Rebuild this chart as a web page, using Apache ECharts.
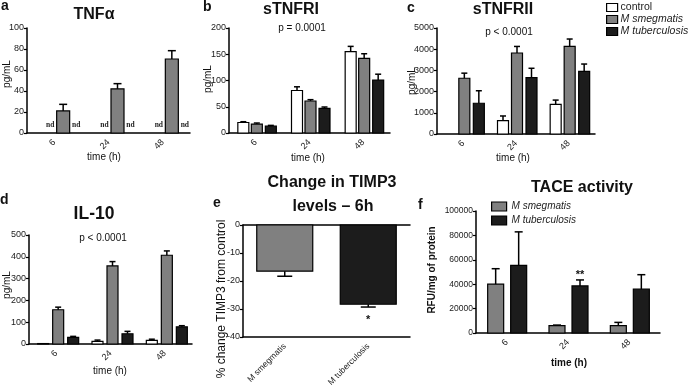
<!DOCTYPE html>
<html><head><meta charset="utf-8">
<script src="https://cdn.jsdelivr.net/npm/echarts@6/dist/echarts.min.js"></script>
<style>html,body{margin:0;padding:0;background:#fff}#c{width:691px;height:391px}</style>
</head><body><div id="c"></div>
<script>
// ---- data ----
const timeCats = ['6', '24', '48'];
const aSmeg = [21, 42, 70.5], aSmegErr = [6.3, 5, 7.9];
const aNd = ['nd', 'nd', 'nd'];
const bControl = [20, 81, 155], bControlErr = [1.5, 7, 10];
const bSmeg = [17, 61, 142], bSmegErr = [2, 2.5, 9];
const bTb = [13, 47, 101], bTbErr = [1.5, 2.5, 11];
const cControl = [0, 630, 1400], cControlErr = [0, 220, 200];
const cSmeg = [2630, 3820, 4130], cSmegErr = [240, 310, 350];
const cTb = [1450, 2660, 2950], cTbErr = [590, 440, 350];
const dControl = [2, 12, 17], dControlErr = [0, 6, 5];
const dSmeg = [157, 358, 407], dSmegErr = [12, 20, 20];
const dTb = [30, 47, 79], dTbErr = [5, 11, 5];
const eCats = ['M smegmatis', 'M tuberculosis'];
const eValues = [-16.5, -28.3], eErr = [1.8, 1.0], eSig = ['', '*'];
const fSmeg = [40000, 6000, 6000], fSmegErr = [12700, 500, 2700];
const fTb = [55400, 38600, 35900], fTbErr = [27500, 4900, 11900], fSig = ['', '**', ''];
const seriesNames = ['control', 'M smegmatis', 'M tuberculosis'];

const FONT = '"Liberation Sans", Arial, sans-serif';
const WHITE = '#ffffff', GRAY = '#808080', BLACK = '#1c1c1c';

function mkSeries(name, xi, yi, values, errs, fill, off, w, cap, extra) {
  extra = extra || {};
  return {
    type: 'custom', name: name, xAxisIndex: xi, yAxisIndex: yi, z: 3,
    itemStyle: { color: fill, borderColor: '#000', borderWidth: 1.2 },
    encode: { x: 0, y: 1 },
    data: values.map((v, i) => [i, v, errs ? errs[i] : 0]),
    renderItem: function (params, api) {
      const i = params.dataIndex;
      const ci = api.value(0), v = api.value(1), e = api.value(2);
      const base = api.coord([ci, 0]);
      const cx = base[0] + off;
      const ch = [];
      if (extra.labels) {
        ch.push({ type: 'text', x: cx, y: base[1] - 8,
          style: { text: extra.labels[i], font: 'bold 7.5px "Liberation Serif", serif', fill: '#222', textAlign: 'center', textVerticalAlign: 'middle' } });
        return { type: 'group', children: ch };
      }
      const top = api.coord([ci, v]);
      const f = extra.fills ? extra.fills[i] : fill;
      if (v !== 0) {
        ch.push({ type: 'rect', shape: { x: cx - w / 2, y: Math.min(top[1], base[1]), width: w, height: Math.abs(top[1] - base[1]) },
          style: { fill: f, stroke: '#000', lineWidth: 1.2 } });
      }
      const s = v < 0 ? -1 : 1;
      let ey = top[1];
      if (e > 0) {
        ey = api.coord([ci, v + s * e])[1];
        ch.push({ type: 'line', shape: { x1: cx, y1: top[1], x2: cx, y2: ey }, style: { stroke: '#000', lineWidth: 1.5 } });
        ch.push({ type: 'line', shape: { x1: cx - cap / 2, y1: ey, x2: cx + cap / 2, y2: ey }, style: { stroke: '#000', lineWidth: 1.5 } });
      }
      if (extra.sig && extra.sig[i]) {
        ch.push({ type: 'text', x: cx, y: s > 0 ? ey - 5 : ey + 13,
          style: { text: extra.sig[i], font: 'bold 11px ' + FONT, fill: '#111', textAlign: 'center', textVerticalAlign: 'middle' } });
      }
      return { type: 'group', children: ch };
    }
  };
}

function xAx(grid, cats, extra) {
  return Object.assign({
    gridIndex: grid, type: 'category', data: cats,
    axisLine: { onZero: false, lineStyle: { color: '#000', width: 1.5 } },
    axisTick: { alignWithLabel: true, length: 3, lineStyle: { color: '#000', width: 1.2 } },
    axisLabel: { rotate: 45, interval: 0, fontSize: 9, color: '#222', fontFamily: FONT, margin: 8 },
    splitLine: { show: false }
  }, extra || {});
}
function yAx(grid, min, max, interval, fs) {
  return {
    gridIndex: grid, type: 'value', min: min, max: max, interval: interval,
    axisLine: { show: true, lineStyle: { color: '#000', width: 1.5 } },
    axisTick: { show: true, length: 3, lineStyle: { color: '#000', width: 1.2 } },
    axisLabel: { fontSize: fs || 9, color: '#1a1a1a', fontFamily: FONT, margin: 3, formatter: v => String(v) },
    splitLine: { show: false }
  };
}
function T(text, x, y, font, rot, align) {
  return { type: 'text', x: x, y: y, rotation: rot || 0, silent: true,
    style: { text: text, font: font, fill: '#111', textAlign: align || 'center', textVerticalAlign: 'middle' } };
}
const legendFmt = n => n === 'control' ? n : '{i|' + n + '}';
const legItem = (n, c) => ({ name: n, itemStyle: { color: c, borderColor: '#000', borderWidth: 1.2 } });

const option = {
  animation: false,
  backgroundColor: '#fff',
  grid: [
    { left: 27, top: 28, width: 163, height: 105 },
    { left: 229, top: 28, width: 161, height: 105 },
    { left: 437, top: 28, width: 158, height: 106 },
    { left: 29, top: 235, width: 163, height: 109 },
    { left: 243, top: 225, width: 167, height: 112 },
    { left: 476, top: 211, width: 184, height: 122 }
  ],
  xAxis: [
    xAx(0, timeCats), xAx(1, timeCats), xAx(2, timeCats), xAx(3, timeCats),
    xAx(4, eCats, { axisLabel: { rotate: 45, interval: 0, fontSize: 8.5, color: '#222', fontFamily: FONT, margin: 8 } }),
    xAx(5, timeCats, { axisLabel: { rotate: 45, interval: 0, fontSize: 9, color: '#222', fontFamily: FONT, margin: 8 } }),
    { gridIndex: 4, type: 'category', data: eCats, position: 'top',
      axisLine: { onZero: false, lineStyle: { color: '#000', width: 1.5 } }, axisTick: { show: false }, axisLabel: { show: false }, splitLine: { show: false } }
  ],
  yAxis: [
    yAx(0, 0, 100, 20), yAx(1, 0, 200, 50), yAx(2, 0, 5000, 1000),
    yAx(3, 0, 500, 100), yAx(4, -40, 0, 10), yAx(5, 0, 100000, 20000, 8.5)
  ],
  legend: [
    { orient: 'vertical', left: 606, top: 2, padding: 0, icon: 'rect', itemWidth: 11, itemHeight: 8, itemGap: 1, selectedMode: false,
      data: [legItem('control', WHITE), legItem('M smegmatis', GRAY), legItem('M tuberculosis', BLACK)],
      formatter: legendFmt,
      textStyle: { fontSize: 10.5, lineHeight: 10, color: '#222', fontFamily: FONT, padding: [0, 0, 0, -2], rich: { i: { fontStyle: 'italic', fontSize: 10.5, fontFamily: FONT, color: '#222' } } } },
    { orient: 'vertical', left: 491, top: 201, padding: 0, icon: 'rect', itemWidth: 15, itemHeight: 9, itemGap: 3, selectedMode: false,
      data: [legItem('M smegmatis', GRAY), legItem('M tuberculosis', BLACK)],
      formatter: legendFmt,
      textStyle: { fontSize: 10, lineHeight: 11, color: '#222', fontFamily: FONT, rich: { i: { fontStyle: 'italic', fontSize: 10, fontFamily: FONT, color: '#222' } } } }
  ],
  series: [
    mkSeries(seriesNames[0], 0, 0, [0, 0, 0], null, WHITE, -4, 13, 8, { labels: aNd }),
    mkSeries(seriesNames[1], 0, 0, aSmeg, aSmegErr, GRAY, 9, 13, 8),
    mkSeries(seriesNames[2], 0, 0, [0, 0, 0], null, BLACK, 22, 13, 8, { labels: aNd }),

    mkSeries(seriesNames[0], 1, 1, bControl, bControlErr, WHITE, -12.5, 11, 6),
    mkSeries(seriesNames[1], 1, 1, bSmeg, bSmegErr, GRAY, 1, 11, 6),
    mkSeries(seriesNames[2], 1, 1, bTb, bTbErr, BLACK, 15, 11, 6),

    mkSeries(seriesNames[0], 2, 2, cControl, cControlErr, WHITE, -13, 11, 6),
    mkSeries(seriesNames[1], 2, 2, cSmeg, cSmegErr, GRAY, 1, 11, 6),
    mkSeries(seriesNames[2], 2, 2, cTb, cTbErr, BLACK, 15.5, 11, 6),

    mkSeries(seriesNames[0], 3, 3, dControl, dControlErr, WHITE, -13, 11, 6),
    mkSeries(seriesNames[1], 3, 3, dSmeg, dSmegErr, GRAY, 2, 11, 6),
    mkSeries(seriesNames[2], 3, 3, dTb, dTbErr, BLACK, 17, 11, 6),

    mkSeries('TIMP3 change', 4, 4, eValues, eErr, GRAY, 0, 56, 15, { sig: eSig, fills: [GRAY, BLACK] }),

    mkSeries(seriesNames[1], 5, 5, fSmeg, fSmegErr, GRAY, -11, 16, 8),
    mkSeries(seriesNames[2], 5, 5, fTb, fTbErr, BLACK, 12, 16, 8, { sig: fSig })
  ],
  graphic: [
    T('a', 1, 6, 'bold 14px ' + FONT, 0, 'left'),
    T('b', 203, 7, 'bold 14px ' + FONT, 0, 'left'),
    T('c', 407, 8, 'bold 14px ' + FONT, 0, 'left'),
    T('d', 0, 200, 'bold 14px ' + FONT, 0, 'left'),
    T('e', 213, 203, 'bold 14px ' + FONT, 0, 'left'),
    T('f', 418, 205, 'bold 14px ' + FONT, 0, 'left'),
    T('TNFα', 94, 15, 'bold 16px ' + FONT),
    T('sTNFRI', 291, 10, 'bold 16px ' + FONT),
    T('sTNFRII', 503, 10, 'bold 16px ' + FONT),
    T('IL-10', 94, 214, 'bold 17.5px ' + FONT),
    T('Change in TIMP3', 332, 183, 'bold 16px ' + FONT),
    T('levels – 6h', 333, 207, 'bold 16px ' + FONT),
    T('TACE activity', 582, 188, 'bold 16px ' + FONT),
    T('p = 0.0001', 302, 28, '10px ' + FONT),
    T('p < 0.0001', 509, 32, '10px ' + FONT),
    T('p < 0.0001', 103, 238, '10px ' + FONT),
    T('pg/mL', 7, 74, '10px ' + FONT, Math.PI / 2),
    T('pg/mL', 208, 79, '10px ' + FONT, Math.PI / 2),
    T('pg/mL', 412, 81, '10px ' + FONT, Math.PI / 2),
    T('pg/mL', 7, 285, '10px ' + FONT, Math.PI / 2),
    T('% change TIMP3 from control', 222, 299, '12px ' + FONT, Math.PI / 2),
    T('RFU/mg of protein', 432, 270, 'bold 10px ' + FONT, Math.PI / 2),
    T('time (h)', 104, 157, '10px ' + FONT),
    T('time (h)', 308, 158, '10px ' + FONT),
    T('time (h)', 513, 158, '10px ' + FONT),
    T('time (h)', 110, 371, '10px ' + FONT),
    T('time (h)', 569, 363, 'bold 10px ' + FONT)
  ]
};
const chart = echarts.init(document.getElementById('c'), null, { renderer: 'canvas' });
chart.setOption(option);
</script>
</body></html>
